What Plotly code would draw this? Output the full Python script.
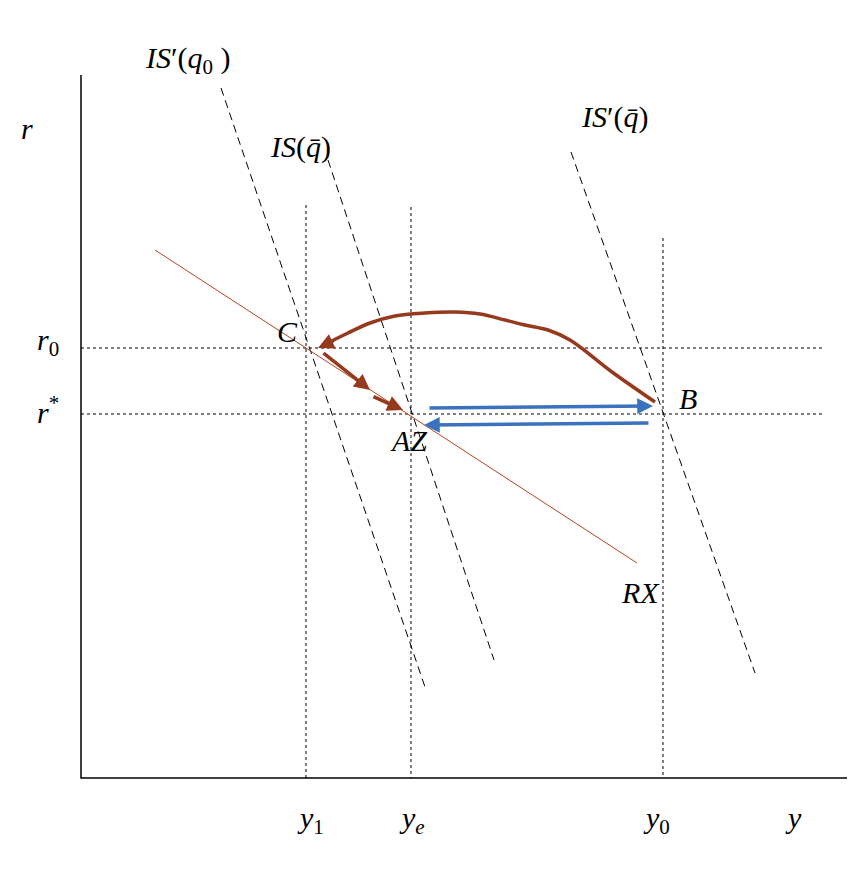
import plotly.graph_objects as go

# diagram geometry in picture units (x right, y down)
axis_x = [81, 81, 847]
axis_y = [75, 778, 778]

vert_x = [306, 411, 663]
vert_top = [205, 207, 238]
horiz_y = [348, 414]

is_lines = {
    "is_q0": ([221, 426], [88, 690]),
    "is_qbar": ([328, 494], [160, 660]),
    "is_prime_qbar": ([571, 755], [152, 673]),
}
rx_x = [155, 637]
rx_y = [250, 563]

curve_x = [655, 612, 570, 548, 525, 505, 480, 455, 425, 395, 370, 348, 330, 322]
curve_y = [402, 372, 340, 330, 325, 320, 314, 312, 313, 316, 323, 333, 342, 347]

brown_arrows = [((322, 352), (370, 390)), ((372, 396), (403, 410))]
blue_arrows = [((428, 408), (653, 406)), ((650, 423), (424, 425))]

labels = [
    ("<i>r</i>", 27, 128), ("<i>r</i><sub>0</sub>", 48, 342), ("<i>r</i><sup>*</sup>", 48, 410),
    ("<i>C</i>", 287, 331), ("<i>B</i>", 688, 398), ("<i>AZ</i>", 408, 440), ("<i>RX</i>", 640, 592),
    ("<i>y</i><sub>1</sub>", 310, 820), ("<i>y<sub>e</sub></i>", 412, 820), ("<i>y</i><sub>0</sub>", 656, 820),
    ("<i>y</i>", 793, 817), ("<i>IS</i>′(<i>q</i><sub>0</sub> )", 188, 60), ("<i>IS</i>(<i>q̄</i>)", 300, 147),
    ("<i>IS</i>′(<i>q̄</i>)", 615, 117),
]

fig = go.Figure()
fig.add_trace(go.Scatter(x=axis_x, y=axis_y, mode="lines", line=dict(color="black", width=1.5)))
for x, t in zip(vert_x, vert_top):
    fig.add_trace(go.Scatter(x=[x, x], y=[t, 778], mode="lines",
                             line=dict(color="black", width=1, dash="3px,3px")))
for y in horiz_y:
    fig.add_trace(go.Scatter(x=[81, 825], y=[y, y], mode="lines",
                             line=dict(color="black", width=1, dash="3px,3px")))
for k, (xs, ys) in is_lines.items():
    fig.add_trace(go.Scatter(x=xs, y=ys, mode="lines",
                             line=dict(color="black", width=1, dash="8px,5px")))
fig.add_trace(go.Scatter(x=rx_x, y=rx_y, mode="lines", line=dict(color="#b5451b", width=1)))
fig.add_trace(go.Scatter(x=curve_x, y=curve_y, mode="lines",
                         line=dict(color="#963a1e", width=3.5, shape="spline")))

for (x0, y0), (x1, y1) in brown_arrows:
    fig.add_annotation(x=x1, y=y1, ax=x0, ay=y0, xref="x", yref="y", axref="x", ayref="y",
                       showarrow=True, arrowhead=2, arrowsize=0.9, arrowwidth=3.5,
                       arrowcolor="#963a1e", text="")
fig.add_annotation(x=318, y=348, ax=335, ay=340, xref="x", yref="y", axref="x", ayref="y",
                   showarrow=True, arrowhead=2, arrowsize=0.9, arrowwidth=3.5,
                   arrowcolor="#963a1e", text="")
for (x0, y0), (x1, y1) in blue_arrows:
    fig.add_annotation(x=x1, y=y1, ax=x0, ay=y0, xref="x", yref="y", axref="x", ayref="y",
                       showarrow=True, arrowhead=2, arrowsize=0.9, arrowwidth=3.5,
                       arrowcolor="#3a72c0", text="")

for txt, x, y in labels:
    fig.add_annotation(x=x, y=y, text=txt, showarrow=False,
                       font=dict(family="Liberation Serif", size=30, color="black"))

# page body adds an 8px offset, so shift the visible range to compensate
fig.update_layout(
    width=862, height=886, showlegend=False,
    margin=dict(l=0, r=0, t=0, b=0),
    plot_bgcolor="white", paper_bgcolor="white",
    xaxis=dict(range=[8, 870], visible=False),
    yaxis=dict(range=[894, 8], visible=False),
)
fig.write_html("out.html")
